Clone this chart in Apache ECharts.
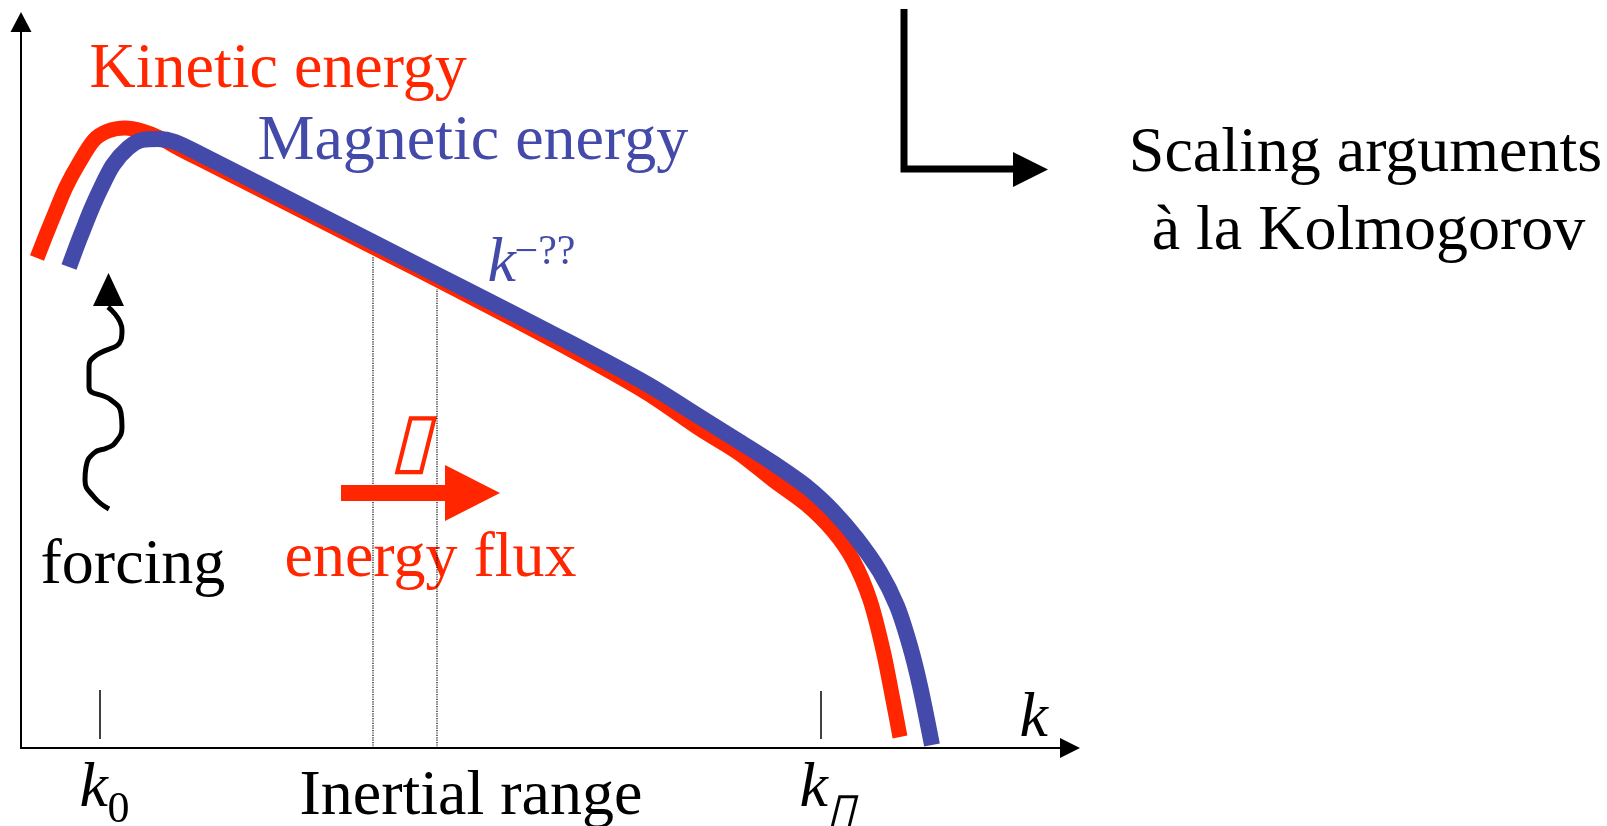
<!DOCTYPE html>
<html>
<head>
<meta charset="utf-8">
<script src="https://cdn.jsdelivr.net/npm/echarts@6/dist/echarts.min.js"></script>
<style>html,body{margin:0;background:#fff}#chart{width:1607px;height:826px}</style>
</head>
<body>
<div id="chart"></div>
<script>
var RED = '#ff2600', BLUE = '#444aa9', INK = '#000';
var SERIF = "'Liberation Serif','Times New Roman',serif";

// schematic spectra: wavenumber k vs energy E (arbitrary units)
var kineticSpectrum = [[16,490],[25,513],[34,535],[45,561],[58,585],[73,608],[87,617],[104,620],[121,617],[139,610],
    [159,599],[179,589],[246,555],[351,501.5],[446,453],[539,404],[626,355],[679,319],[719,294],[752,268],[786,243],
    [812,217],[832,188],[849,148],[862,98],[872,48],[879,11]];
var magneticSpectrum = [[48,481],[55,500],[62,518],[70,538],[79,558],[92,583],[107,600],[121,608],[137,609],[154,606],
    [179,594],[246,560],[351,506.4],[446,458],[539,410.5],[626,364],[679,331],[719,306],[752,285],[786,261],[812,237],
    [836,209],[859,176],[876,142],[889,102],[899,62],[911,3]];

// tick marks at k0 and k_diss, bounds of the inertial-range slice
var tickMarks = [[[79,9],[79,58]], [[800,9],[800,57]]];
var sliceBounds = [[[352,0],[352,492]], [[416,0],[416,459]]];

// wavy forcing arrow, flux arrow shaft, corner arrow
var forcingPath = [[87,441],[101,418],[100,408],[73,391],[68,381],[68,361],[90,348],[100,335],[101,321],[94,305],
    [86,300],[73,295],[65,281],[64,268],[73,251],[88,239]];
var fluxShaft = [[320,255],[424,255]];
var cornerPath = [[883,739],[883,579],[992,579]];

var arrowHeads = [
    {at: [87.5,458.5], size: [31,33], rot: 0, color: INK},
    {at: [451.5,255], size: [56,55], rot: -90, color: RED},
    {at: [1009.5,578.5], size: [35,35], rot: -90, color: INK}
];

var labels = [
    {t: 'Kinetic energy', at: [69,677], c: RED},
    {t: 'Magnetic energy', at: [237,605], c: BLUE},
    {t: 'k', at: [467,483], c: BLUE, it: true},
    {t: '\u2212??', at: [494,495], c: BLUE, s: 42},
    {t: 'forcing', at: [20,181]},
    {t: '\u25AF', at: [390,302], c: RED, it: true, s: 76, a: 'center'},
    {t: 'energy flux', at: [264,188], c: RED},
    {t: 'Inertial range', at: [279,-50]},
    {t: 'k', at: [59,-42], it: true},
    {t: '0', at: [87,-63], s: 44},
    {t: 'k', at: [779,-42], it: true},
    {t: '\u25AF', at: [819,-68], it: true, s: 54, a: 'center'},
    {t: 'k', at: [999,28], it: true},
    {t: 'Scaling arguments', at: [1345,593], a: 'center'},
    {t: '\u00E0 la Kolmogorov', at: [1348,515], a: 'center'}
];

function plain(data, color, width, extra) {
    var s = {
        type: 'line', data: data, symbol: 'none', clip: false, silent: true,
        lineStyle: {color: color, width: width, cap: 'butt', join: 'round'}
    };
    for (var key in extra) s[key] = extra[key];
    return s;
}

var series = [];
sliceBounds.forEach(function (d) {
    var s = plain(d, INK, 1.2);
    s.lineStyle.type = [1.2, 1.2];
    series.push(s);
});
series.push(plain(kineticSpectrum, RED, 15, {smooth: 0.3}));
series.push(plain(magneticSpectrum, BLUE, 16, {smooth: 0.3}));
tickMarks.forEach(function (d) { series.push(plain(d, INK, 1.5)); });
series.push(plain(forcingPath, INK, 5, {smooth: 0.5}));
series.push(plain(fluxShaft, RED, 16));
var corner = plain(cornerPath, INK, 7);
corner.lineStyle.join = 'miter';
series.push(corner);

series.push({
    type: 'scatter', clip: false, silent: true, symbol: 'triangle',
    data: arrowHeads.map(function (h) {
        return {value: h.at, symbolSize: h.size, symbolRotate: h.rot, itemStyle: {color: h.color, opacity: 1}};
    })
});

series.push({
    type: 'scatter', clip: false, silent: true, symbolSize: 1,
    itemStyle: {color: 'transparent', opacity: 1},
    data: labels.map(function (l) {
        return {
            value: l.at,
            label: {
                show: true, position: [0, 0], formatter: l.t, opacity: 1,
                color: l.c || INK, fontSize: l.s || 64, fontFamily: SERIF,
                fontStyle: l.it ? 'italic' : 'normal', textBorderWidth: 0,
                align: l.a || 'left', verticalAlign: 'middle'
            }
        };
    })
});

var chart = echarts.init(document.getElementById('chart'));
chart.setOption({
    animation: false,
    backgroundColor: '#fff',
    grid: {left: 21, top: 22, right: 537, bottom: 78},
    xAxis: {
        type: 'value', min: 0, max: 1049,
        axisLine: {show: true, symbol: ['none', 'triangle'], symbolSize: [20, 20], lineStyle: {color: INK, width: 2}},
        axisTick: {show: false}, axisLabel: {show: false}, splitLine: {show: false}
    },
    yAxis: {
        type: 'value', min: 0, max: 726,
        axisLine: {show: true, symbol: ['none', 'triangle'], symbolSize: [21, 20], lineStyle: {color: INK, width: 2}},
        axisTick: {show: false}, axisLabel: {show: false}, splitLine: {show: false}
    },
    series: series
});
</script>
</body>
</html>
